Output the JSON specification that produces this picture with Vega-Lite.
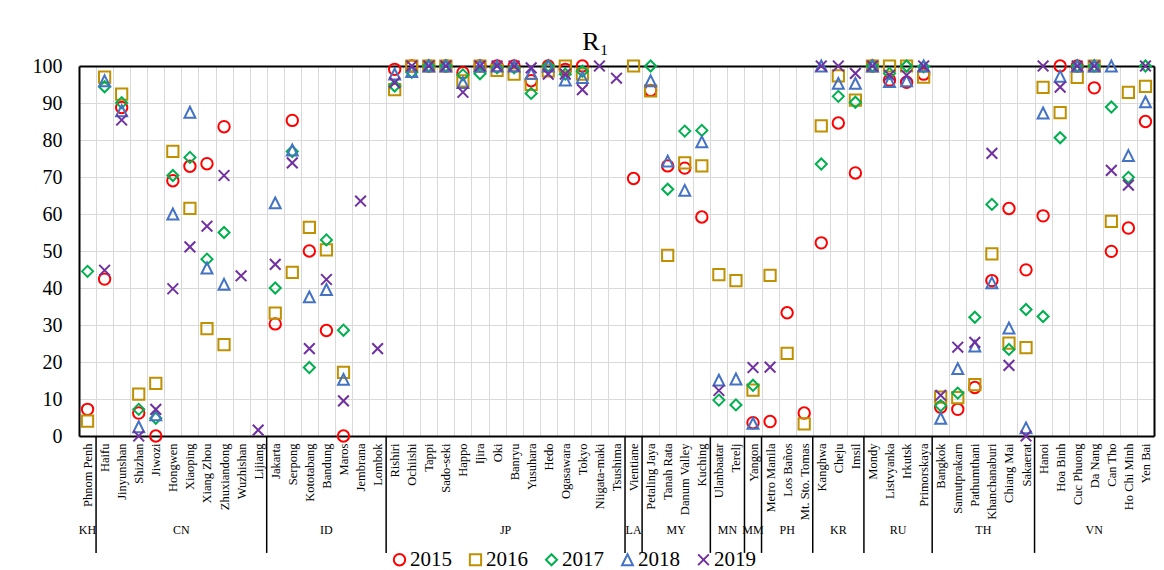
{
  "$schema": "https://vega.github.io/schema/vega-lite/v6.json",
  "width": 1075,
  "height": 370,
  "autosize": {"type": "none"},
  "padding": {"left": 79, "top": 66, "right": 10, "bottom": 134},
  "background": "white",
  "title": {"text": "R₁", "font": "Liberation Serif", "fontSize": 26, "fontWeight": "normal", "color": "black", "anchor": "middle", "dx": -21, "offset": -20, "baseline": "alphabetic"},
  "config": {"view": {"stroke": null}, "font": "Liberation Serif"},
  "resolve": {"axis": {"x": "independent", "y": "independent"}},
  "datasets": {
    "r1": [
      {"site": "Phnom Penh", "year": "2015", "r1": 7.2},
      {"site": "Haifu", "year": "2015", "r1": 42.4},
      {"site": "Jinyunshan", "year": "2015", "r1": 88.8},
      {"site": "Shizhan", "year": "2015", "r1": 6.2},
      {"site": "Jiwozi", "year": "2015", "r1": 0},
      {"site": "Hongwen", "year": "2015", "r1": 69.0},
      {"site": "Xiaoping", "year": "2015", "r1": 72.9},
      {"site": "Xiang Zhou", "year": "2015", "r1": 73.6},
      {"site": "Zhuxiandong", "year": "2015", "r1": 83.6},
      {"site": "Jakarta", "year": "2015", "r1": 30.3},
      {"site": "Serpong", "year": "2015", "r1": 85.3},
      {"site": "Kototabang", "year": "2015", "r1": 50.0},
      {"site": "Bandung", "year": "2015", "r1": 28.5},
      {"site": "Maros", "year": "2015", "r1": 0},
      {"site": "Rishiri", "year": "2015", "r1": 99.1},
      {"site": "Ochiishi", "year": "2015", "r1": 100},
      {"site": "Tappi", "year": "2015", "r1": 100},
      {"site": "Sado-seki", "year": "2015", "r1": 100},
      {"site": "Happo", "year": "2015", "r1": 98.2},
      {"site": "Ijira", "year": "2015", "r1": 100},
      {"site": "Oki", "year": "2015", "r1": 100},
      {"site": "Banryu", "year": "2015", "r1": 100},
      {"site": "Yusuhara", "year": "2015", "r1": 96.0},
      {"site": "Hedo", "year": "2015", "r1": 100},
      {"site": "Ogasawara", "year": "2015", "r1": 99.1},
      {"site": "Tokyo", "year": "2015", "r1": 100},
      {"site": "Vientiane", "year": "2015", "r1": 69.6},
      {"site": "Petaling Jaya", "year": "2015", "r1": 93.4},
      {"site": "Tanah Rata", "year": "2015", "r1": 73.0},
      {"site": "Danum Valley", "year": "2015", "r1": 72.4},
      {"site": "Kuching", "year": "2015", "r1": 59.2},
      {"site": "Yangon", "year": "2015", "r1": 3.6},
      {"site": "Metro Manila", "year": "2015", "r1": 3.9},
      {"site": "Los Baños", "year": "2015", "r1": 33.3},
      {"site": "Mt. Sto. Tomas", "year": "2015", "r1": 6.2},
      {"site": "Kanghwa", "year": "2015", "r1": 52.2},
      {"site": "Cheju", "year": "2015", "r1": 84.6},
      {"site": "Imsil", "year": "2015", "r1": 71.1},
      {"site": "Mondy", "year": "2015", "r1": 100},
      {"site": "Listvyanka", "year": "2015", "r1": 96.2},
      {"site": "Irkutsk", "year": "2015", "r1": 95.6},
      {"site": "Primorskaya", "year": "2015", "r1": 97.8},
      {"site": "Bangkok", "year": "2015", "r1": 7.8},
      {"site": "Samutprakarn", "year": "2015", "r1": 7.2},
      {"site": "Pathumthani", "year": "2015", "r1": 13.1},
      {"site": "Khanchanaburi", "year": "2015", "r1": 42.0},
      {"site": "Chiang Mai", "year": "2015", "r1": 61.5},
      {"site": "Sakaerat", "year": "2015", "r1": 44.9},
      {"site": "Hanoi", "year": "2015", "r1": 59.5},
      {"site": "Hoa Binh", "year": "2015", "r1": 100},
      {"site": "Cuc Phuong", "year": "2015", "r1": 100},
      {"site": "Da Nang", "year": "2015", "r1": 94.1},
      {"site": "Can Tho", "year": "2015", "r1": 49.9},
      {"site": "Ho Chi Minh", "year": "2015", "r1": 56.2},
      {"site": "Yen Bai", "year": "2015", "r1": 85.0},

      {"site": "Phnom Penh", "year": "2016", "r1": 4.0},
      {"site": "Haifu", "year": "2016", "r1": 97.0},
      {"site": "Jinyunshan", "year": "2016", "r1": 92.4},
      {"site": "Shizhan", "year": "2016", "r1": 11.3},
      {"site": "Jiwozi", "year": "2016", "r1": 14.2},
      {"site": "Hongwen", "year": "2016", "r1": 76.9},
      {"site": "Xiaoping", "year": "2016", "r1": 61.5},
      {"site": "Xiang Zhou", "year": "2016", "r1": 29.0},
      {"site": "Zhuxiandong", "year": "2016", "r1": 24.7},
      {"site": "Jakarta", "year": "2016", "r1": 33.2},
      {"site": "Serpong", "year": "2016", "r1": 44.2},
      {"site": "Kototabang", "year": "2016", "r1": 56.4},
      {"site": "Bandung", "year": "2016", "r1": 50.3},
      {"site": "Maros", "year": "2016", "r1": 17.2},
      {"site": "Rishiri", "year": "2016", "r1": 93.6},
      {"site": "Ochiishi", "year": "2016", "r1": 100},
      {"site": "Tappi", "year": "2016", "r1": 100},
      {"site": "Sado-seki", "year": "2016", "r1": 100},
      {"site": "Happo", "year": "2016", "r1": 96.0},
      {"site": "Ijira", "year": "2016", "r1": 100},
      {"site": "Oki", "year": "2016", "r1": 98.8},
      {"site": "Banryu", "year": "2016", "r1": 97.8},
      {"site": "Yusuhara", "year": "2016", "r1": 95.0},
      {"site": "Hedo", "year": "2016", "r1": 98.7},
      {"site": "Ogasawara", "year": "2016", "r1": 100},
      {"site": "Tokyo", "year": "2016", "r1": 97.8},
      {"site": "Vientiane", "year": "2016", "r1": 100},
      {"site": "Petaling Jaya", "year": "2016", "r1": 93.3},
      {"site": "Tanah Rata", "year": "2016", "r1": 48.8},
      {"site": "Danum Valley", "year": "2016", "r1": 73.8},
      {"site": "Kuching", "year": "2016", "r1": 73.0},
      {"site": "Ulanbaatar", "year": "2016", "r1": 43.6},
      {"site": "Terelj", "year": "2016", "r1": 42.0},
      {"site": "Yangon", "year": "2016", "r1": 12.4},
      {"site": "Metro Manila", "year": "2016", "r1": 43.4},
      {"site": "Los Baños", "year": "2016", "r1": 22.3},
      {"site": "Mt. Sto. Tomas", "year": "2016", "r1": 3.3},
      {"site": "Kanghwa", "year": "2016", "r1": 83.8},
      {"site": "Cheju", "year": "2016", "r1": 97.3},
      {"site": "Imsil", "year": "2016", "r1": 90.8},
      {"site": "Mondy", "year": "2016", "r1": 100},
      {"site": "Listvyanka", "year": "2016", "r1": 100},
      {"site": "Irkutsk", "year": "2016", "r1": 100},
      {"site": "Primorskaya", "year": "2016", "r1": 97.0},
      {"site": "Bangkok", "year": "2016", "r1": 10.5},
      {"site": "Samutprakarn", "year": "2016", "r1": 10.4},
      {"site": "Pathumthani", "year": "2016", "r1": 13.9},
      {"site": "Khanchanaburi", "year": "2016", "r1": 49.2},
      {"site": "Chiang Mai", "year": "2016", "r1": 25.1},
      {"site": "Sakaerat", "year": "2016", "r1": 23.9},
      {"site": "Hanoi", "year": "2016", "r1": 94.2},
      {"site": "Hoa Binh", "year": "2016", "r1": 87.4},
      {"site": "Cuc Phuong", "year": "2016", "r1": 96.9},
      {"site": "Da Nang", "year": "2016", "r1": 100},
      {"site": "Can Tho", "year": "2016", "r1": 58.0},
      {"site": "Ho Chi Minh", "year": "2016", "r1": 92.9},
      {"site": "Yen Bai", "year": "2016", "r1": 94.5},

      {"site": "Phnom Penh", "year": "2017", "r1": 44.5},
      {"site": "Haifu", "year": "2017", "r1": 94.4},
      {"site": "Jinyunshan", "year": "2017", "r1": 90.1},
      {"site": "Shizhan", "year": "2017", "r1": 7.2},
      {"site": "Jiwozi", "year": "2017", "r1": 4.8},
      {"site": "Hongwen", "year": "2017", "r1": 70.4},
      {"site": "Xiaoping", "year": "2017", "r1": 75.3},
      {"site": "Xiang Zhou", "year": "2017", "r1": 47.8},
      {"site": "Zhuxiandong", "year": "2017", "r1": 55.0},
      {"site": "Jakarta", "year": "2017", "r1": 40.0},
      {"site": "Serpong", "year": "2017", "r1": 76.9},
      {"site": "Kototabang", "year": "2017", "r1": 18.5},
      {"site": "Bandung", "year": "2017", "r1": 53.0},
      {"site": "Maros", "year": "2017", "r1": 28.6},
      {"site": "Rishiri", "year": "2017", "r1": 94.6},
      {"site": "Ochiishi", "year": "2017", "r1": 98.3},
      {"site": "Tappi", "year": "2017", "r1": 100},
      {"site": "Sado-seki", "year": "2017", "r1": 100},
      {"site": "Happo", "year": "2017", "r1": 97.6},
      {"site": "Ijira", "year": "2017", "r1": 97.9},
      {"site": "Oki", "year": "2017", "r1": 99.5},
      {"site": "Banryu", "year": "2017", "r1": 99.5},
      {"site": "Yusuhara", "year": "2017", "r1": 92.6},
      {"site": "Hedo", "year": "2017", "r1": 100},
      {"site": "Ogasawara", "year": "2017", "r1": 97.8},
      {"site": "Tokyo", "year": "2017", "r1": 98.6},
      {"site": "Petaling Jaya", "year": "2017", "r1": 100},
      {"site": "Tanah Rata", "year": "2017", "r1": 66.7},
      {"site": "Danum Valley", "year": "2017", "r1": 82.4},
      {"site": "Kuching", "year": "2017", "r1": 82.6},
      {"site": "Ulanbaatar", "year": "2017", "r1": 9.7},
      {"site": "Terelj", "year": "2017", "r1": 8.4},
      {"site": "Yangon", "year": "2017", "r1": 13.7},
      {"site": "Kanghwa", "year": "2017", "r1": 73.5},
      {"site": "Cheju", "year": "2017", "r1": 91.8},
      {"site": "Imsil", "year": "2017", "r1": 90.2},
      {"site": "Mondy", "year": "2017", "r1": 100},
      {"site": "Listvyanka", "year": "2017", "r1": 98.0},
      {"site": "Irkutsk", "year": "2017", "r1": 100},
      {"site": "Primorskaya", "year": "2017", "r1": 99.8},
      {"site": "Bangkok", "year": "2017", "r1": 8.2},
      {"site": "Samutprakarn", "year": "2017", "r1": 11.6},
      {"site": "Pathumthani", "year": "2017", "r1": 32.1},
      {"site": "Khanchanaburi", "year": "2017", "r1": 62.6},
      {"site": "Chiang Mai", "year": "2017", "r1": 23.4},
      {"site": "Sakaerat", "year": "2017", "r1": 34.2},
      {"site": "Hanoi", "year": "2017", "r1": 32.3},
      {"site": "Hoa Binh", "year": "2017", "r1": 80.6},
      {"site": "Cuc Phuong", "year": "2017", "r1": 100},
      {"site": "Da Nang", "year": "2017", "r1": 100},
      {"site": "Can Tho", "year": "2017", "r1": 88.9},
      {"site": "Ho Chi Minh", "year": "2017", "r1": 69.9},
      {"site": "Yen Bai", "year": "2017", "r1": 100},

      {"site": "Haifu", "year": "2018", "r1": 96.0},
      {"site": "Jinyunshan", "year": "2018", "r1": 87.9},
      {"site": "Shizhan", "year": "2018", "r1": 2.5},
      {"site": "Jiwozi", "year": "2018", "r1": 5.7},
      {"site": "Hongwen", "year": "2018", "r1": 60.0},
      {"site": "Xiaoping", "year": "2018", "r1": 87.5},
      {"site": "Xiang Zhou", "year": "2018", "r1": 45.4},
      {"site": "Zhuxiandong", "year": "2018", "r1": 41.0},
      {"site": "Jakarta", "year": "2018", "r1": 63.0},
      {"site": "Serpong", "year": "2018", "r1": 77.3},
      {"site": "Kototabang", "year": "2018", "r1": 37.6},
      {"site": "Bandung", "year": "2018", "r1": 39.6},
      {"site": "Maros", "year": "2018", "r1": 15.3},
      {"site": "Rishiri", "year": "2018", "r1": 97.8},
      {"site": "Ochiishi", "year": "2018", "r1": 98.5},
      {"site": "Tappi", "year": "2018", "r1": 100},
      {"site": "Sado-seki", "year": "2018", "r1": 100},
      {"site": "Happo", "year": "2018", "r1": 95.5},
      {"site": "Ijira", "year": "2018", "r1": 100},
      {"site": "Oki", "year": "2018", "r1": 100},
      {"site": "Banryu", "year": "2018", "r1": 100},
      {"site": "Yusuhara", "year": "2018", "r1": 98.0},
      {"site": "Hedo", "year": "2018", "r1": 100},
      {"site": "Ogasawara", "year": "2018", "r1": 96.2},
      {"site": "Tokyo", "year": "2018", "r1": 96.9},
      {"site": "Petaling Jaya", "year": "2018", "r1": 96.0},
      {"site": "Tanah Rata", "year": "2018", "r1": 74.3},
      {"site": "Danum Valley", "year": "2018", "r1": 66.4},
      {"site": "Kuching", "year": "2018", "r1": 79.5},
      {"site": "Ulanbaatar", "year": "2018", "r1": 15.1},
      {"site": "Terelj", "year": "2018", "r1": 15.4},
      {"site": "Yangon", "year": "2018", "r1": 3.4},
      {"site": "Kanghwa", "year": "2018", "r1": 100},
      {"site": "Cheju", "year": "2018", "r1": 95.3},
      {"site": "Imsil", "year": "2018", "r1": 95.3},
      {"site": "Mondy", "year": "2018", "r1": 100},
      {"site": "Listvyanka", "year": "2018", "r1": 95.8},
      {"site": "Irkutsk", "year": "2018", "r1": 96.0},
      {"site": "Primorskaya", "year": "2018", "r1": 100},
      {"site": "Bangkok", "year": "2018", "r1": 4.8},
      {"site": "Samutprakarn", "year": "2018", "r1": 18.2},
      {"site": "Pathumthani", "year": "2018", "r1": 24.3},
      {"site": "Khanchanaburi", "year": "2018", "r1": 41.4},
      {"site": "Chiang Mai", "year": "2018", "r1": 29.2},
      {"site": "Sakaerat", "year": "2018", "r1": 2.2},
      {"site": "Hanoi", "year": "2018", "r1": 87.3},
      {"site": "Hoa Binh", "year": "2018", "r1": 97.2},
      {"site": "Cuc Phuong", "year": "2018", "r1": 100},
      {"site": "Da Nang", "year": "2018", "r1": 100},
      {"site": "Can Tho", "year": "2018", "r1": 100},
      {"site": "Ho Chi Minh", "year": "2018", "r1": 75.8},
      {"site": "Yen Bai", "year": "2018", "r1": 90.3},

      {"site": "Haifu", "year": "2019", "r1": 44.8},
      {"site": "Jinyunshan", "year": "2019", "r1": 85.4},
      {"site": "Shizhan", "year": "2019", "r1": 0},
      {"site": "Jiwozi", "year": "2019", "r1": 7.2},
      {"site": "Hongwen", "year": "2019", "r1": 39.8},
      {"site": "Xiaoping", "year": "2019", "r1": 51.1},
      {"site": "Xiang Zhou", "year": "2019", "r1": 56.7},
      {"site": "Zhuxiandong", "year": "2019", "r1": 70.4},
      {"site": "Wuzhishan", "year": "2019", "r1": 43.3},
      {"site": "Lijiang", "year": "2019", "r1": 1.6},
      {"site": "Jakarta", "year": "2019", "r1": 46.4},
      {"site": "Serpong", "year": "2019", "r1": 73.8},
      {"site": "Kototabang", "year": "2019", "r1": 23.6},
      {"site": "Bandung", "year": "2019", "r1": 42.3},
      {"site": "Maros", "year": "2019", "r1": 9.5},
      {"site": "Jembrana", "year": "2019", "r1": 63.5},
      {"site": "Lombok", "year": "2019", "r1": 23.6},
      {"site": "Rishiri", "year": "2019", "r1": 95.5},
      {"site": "Ochiishi", "year": "2019", "r1": 100},
      {"site": "Tappi", "year": "2019", "r1": 100},
      {"site": "Sado-seki", "year": "2019", "r1": 100},
      {"site": "Happo", "year": "2019", "r1": 92.9},
      {"site": "Ijira", "year": "2019", "r1": 100},
      {"site": "Oki", "year": "2019", "r1": 100},
      {"site": "Banryu", "year": "2019", "r1": 100},
      {"site": "Yusuhara", "year": "2019", "r1": 99.5},
      {"site": "Hedo", "year": "2019", "r1": 97.8},
      {"site": "Ogasawara", "year": "2019", "r1": 97.8},
      {"site": "Tokyo", "year": "2019", "r1": 93.6},
      {"site": "Niigata-maki", "year": "2019", "r1": 100},
      {"site": "Tsushima", "year": "2019", "r1": 96.7},
      {"site": "Ulanbaatar", "year": "2019", "r1": 12.3},
      {"site": "Yangon", "year": "2019", "r1": 18.5},
      {"site": "Metro Manila", "year": "2019", "r1": 18.6},
      {"site": "Kanghwa", "year": "2019", "r1": 100},
      {"site": "Cheju", "year": "2019", "r1": 100},
      {"site": "Imsil", "year": "2019", "r1": 98.0},
      {"site": "Mondy", "year": "2019", "r1": 100},
      {"site": "Listvyanka", "year": "2019", "r1": 97.5},
      {"site": "Irkutsk", "year": "2019", "r1": 97.5},
      {"site": "Primorskaya", "year": "2019", "r1": 100},
      {"site": "Bangkok", "year": "2019", "r1": 11.0},
      {"site": "Samutprakarn", "year": "2019", "r1": 24.0},
      {"site": "Pathumthani", "year": "2019", "r1": 25.3},
      {"site": "Khanchanaburi", "year": "2019", "r1": 76.4},
      {"site": "Chiang Mai", "year": "2019", "r1": 19.1},
      {"site": "Sakaerat", "year": "2019", "r1": 0},
      {"site": "Hanoi", "year": "2019", "r1": 100},
      {"site": "Hoa Binh", "year": "2019", "r1": 94.3},
      {"site": "Cuc Phuong", "year": "2019", "r1": 100},
      {"site": "Da Nang", "year": "2019", "r1": 100},
      {"site": "Can Tho", "year": "2019", "r1": 71.8},
      {"site": "Ho Chi Minh", "year": "2019", "r1": 67.8},
      {"site": "Yen Bai", "year": "2019", "r1": 100}
    ],
    "groups": [
      {"country": "KH", "first": "Phnom Penh", "centre": "Phnom Penh", "n": 1},
      {"country": "CN", "first": "Haifu", "centre": "Hongwen", "n": 10},
      {"country": "ID", "first": "Jakarta", "centre": "Bandung", "n": 7},
      {"country": "JP", "first": "Rishiri", "centre": "Oki", "n": 14},
      {"country": "LA", "first": "Vientiane", "centre": "Vientiane", "n": 1},
      {"country": "MY", "first": "Petaling Jaya", "centre": "Tanah Rata", "n": 4},
      {"country": "MN", "first": "Ulanbaatar", "centre": "Ulanbaatar", "n": 2},
      {"country": "MM", "first": "Yangon", "centre": "Yangon", "n": 1},
      {"country": "PH", "first": "Metro Manila", "centre": "Los Baños", "n": 3},
      {"country": "KR", "first": "Kanghwa", "centre": "Cheju", "n": 3},
      {"country": "RU", "first": "Mondy", "centre": "Listvyanka", "n": 4},
      {"country": "TH", "first": "Bangkok", "centre": "Pathumthani", "n": 6},
      {"country": "VN", "first": "Hanoi", "centre": "Da Nang", "n": 7}
    ]
  },
  "layer": [
    {
      "data": {"name": "r1"},
      "mark": {"type": "point", "filled": false, "strokeWidth": 2, "opacity": 1},
      "encoding": {
        "x": {
          "field": "site", "type": "nominal", "sort": null,
          "scale": {"domain": ["Phnom Penh","Haifu","Jinyunshan","Shizhan","Jiwozi","Hongwen","Xiaoping","Xiang Zhou","Zhuxiandong","Wuzhishan","Lijiang","Jakarta","Serpong","Kototabang","Bandung","Maros","Jembrana","Lombok","Rishiri","Ochiishi","Tappi","Sado-seki","Happo","Ijira","Oki","Banryu","Yusuhara","Hedo","Ogasawara","Tokyo","Niigata-maki","Tsushima","Vientiane","Petaling Jaya","Tanah Rata","Danum Valley","Kuching","Ulanbaatar","Terelj","Yangon","Metro Manila","Los Baños","Mt. Sto. Tomas","Kanghwa","Cheju","Imsil","Mondy","Listvyanka","Irkutsk","Primorskaya","Bangkok","Samutprakarn","Pathumthani","Khanchanaburi","Chiang Mai","Sakaerat","Hanoi","Hoa Binh","Cuc Phuong","Da Nang","Can Tho","Ho Chi Minh","Yen Bai"], "paddingInner": 0, "paddingOuter": 0},
          "axis": {"orient": "bottom", "title": null, "labelAngle": 270, "labelFont": "Liberation Serif", "labelFontSize": 12.5, "labelColor": "black", "labelPadding": 7, "ticks": false, "tickBand": "extent", "grid": true, "gridColor": "#D9D9D9", "gridWidth": 1, "domain": true, "domainColor": "black", "domainWidth": 2, "labelOverlap": false, "labelLimit": 0}
        },
        "y": {
          "field": "r1", "type": "quantitative",
          "scale": {"domain": [0, 100], "nice": false},
          "axis": {"orient": "left", "title": null, "tickCount": 10, "labelFont": "Liberation Serif", "labelFontSize": 20, "labelColor": "black", "labelPadding": 17, "ticks": false, "grid": true, "gridColor": "#D9D9D9", "gridWidth": 1, "domain": true, "domainColor": "black", "domainWidth": 2}
        },
        "color": {
          "field": "year", "type": "nominal",
          "scale": {"domain": ["2015", "2016", "2017", "2018", "2019"], "range": ["#FF0000", "#BF9000", "#00B050", "#4472C4", "#7030A0"]},
          "legend": {"orient": "none", "legendX": 310, "legendY": 483, "direction": "horizontal", "title": null, "labelFont": "Liberation Serif", "labelFontSize": 21, "labelColor": "black", "symbolSize": 90, "symbolStrokeWidth": 2, "labelOffset": 0, "columnPadding": 13, "padding": 0}
        },
        "shape": {
          "field": "year", "type": "nominal",
          "scale": {"domain": ["2015", "2016", "2017", "2018", "2019"], "range": ["circle", "square", "diamond", "M0,-1L1,1L-1,1Z", "M-1,-1L1,1M-1,1L1,-1"]}
        },
        "size": {
          "field": "year", "type": "ordinal",
          "scale": {"domain": ["2015", "2016", "2017", "2018", "2019"], "range": [130, 115, 100, 100, 115]},
          "legend": null
        }
      }
    },
    {
      "data": {"name": "groups"},
      "transform": [{"filter": "datum.country !== 'KH'"}],
      "mark": {"type": "rule", "color": "black", "strokeWidth": 1.5},
      "encoding": {
        "x": {
          "field": "first", "type": "nominal", "bandPosition": 0,
          "scale": {"domain": ["Phnom Penh","Haifu","Jinyunshan","Shizhan","Jiwozi","Hongwen","Xiaoping","Xiang Zhou","Zhuxiandong","Wuzhishan","Lijiang","Jakarta","Serpong","Kototabang","Bandung","Maros","Jembrana","Lombok","Rishiri","Ochiishi","Tappi","Sado-seki","Happo","Ijira","Oki","Banryu","Yusuhara","Hedo","Ogasawara","Tokyo","Niigata-maki","Tsushima","Vientiane","Petaling Jaya","Tanah Rata","Danum Valley","Kuching","Ulanbaatar","Terelj","Yangon","Metro Manila","Los Baños","Mt. Sto. Tomas","Kanghwa","Cheju","Imsil","Mondy","Listvyanka","Irkutsk","Primorskaya","Bangkok","Samutprakarn","Pathumthani","Khanchanaburi","Chiang Mai","Sakaerat","Hanoi","Hoa Binh","Cuc Phuong","Da Nang","Can Tho","Ho Chi Minh","Yen Bai"], "paddingInner": 0, "paddingOuter": 0},
          "axis": {"orient": "top", "title": null, "labels": false, "ticks": false, "grid": false, "domain": true, "domainColor": "black", "domainWidth": 2}
        },
        "y": {
          "datum": 0, "type": "quantitative",
          "scale": {"domain": [0, 100], "nice": false},
          "axis": {"orient": "right", "title": null, "labels": false, "ticks": false, "grid": false, "domain": true, "domainColor": "black", "domainWidth": 2}
        },
        "y2": {"datum": -31.6}
      }
    },
    {
      "data": {"name": "groups"},
      "transform": [{"filter": "datum.n % 2 === 1"}],
      "mark": {"type": "text", "font": "Liberation Serif", "fontSize": 12, "color": "black", "baseline": "middle", "align": "center"},
      "encoding": {
        "x": {
          "field": "centre", "type": "nominal", "bandPosition": 0.5,
          "scale": {"domain": ["Phnom Penh","Haifu","Jinyunshan","Shizhan","Jiwozi","Hongwen","Xiaoping","Xiang Zhou","Zhuxiandong","Wuzhishan","Lijiang","Jakarta","Serpong","Kototabang","Bandung","Maros","Jembrana","Lombok","Rishiri","Ochiishi","Tappi","Sado-seki","Happo","Ijira","Oki","Banryu","Yusuhara","Hedo","Ogasawara","Tokyo","Niigata-maki","Tsushima","Vientiane","Petaling Jaya","Tanah Rata","Danum Valley","Kuching","Ulanbaatar","Terelj","Yangon","Metro Manila","Los Baños","Mt. Sto. Tomas","Kanghwa","Cheju","Imsil","Mondy","Listvyanka","Irkutsk","Primorskaya","Bangkok","Samutprakarn","Pathumthani","Khanchanaburi","Chiang Mai","Sakaerat","Hanoi","Hoa Binh","Cuc Phuong","Da Nang","Can Tho","Ho Chi Minh","Yen Bai"], "paddingInner": 0, "paddingOuter": 0},
          "axis": null
        },
        "y": {"datum": -25.4, "type": "quantitative", "scale": {"domain": [0, 100], "nice": false}, "axis": null},
        "text": {"field": "country"}
      }
    },
    {
      "data": {"name": "groups"},
      "transform": [{"filter": "datum.n % 2 === 0"}],
      "mark": {"type": "text", "font": "Liberation Serif", "fontSize": 12, "color": "black", "baseline": "middle", "align": "center"},
      "encoding": {
        "x": {
          "field": "centre", "type": "nominal", "bandPosition": 1,
          "scale": {"domain": ["Phnom Penh","Haifu","Jinyunshan","Shizhan","Jiwozi","Hongwen","Xiaoping","Xiang Zhou","Zhuxiandong","Wuzhishan","Lijiang","Jakarta","Serpong","Kototabang","Bandung","Maros","Jembrana","Lombok","Rishiri","Ochiishi","Tappi","Sado-seki","Happo","Ijira","Oki","Banryu","Yusuhara","Hedo","Ogasawara","Tokyo","Niigata-maki","Tsushima","Vientiane","Petaling Jaya","Tanah Rata","Danum Valley","Kuching","Ulanbaatar","Terelj","Yangon","Metro Manila","Los Baños","Mt. Sto. Tomas","Kanghwa","Cheju","Imsil","Mondy","Listvyanka","Irkutsk","Primorskaya","Bangkok","Samutprakarn","Pathumthani","Khanchanaburi","Chiang Mai","Sakaerat","Hanoi","Hoa Binh","Cuc Phuong","Da Nang","Can Tho","Ho Chi Minh","Yen Bai"], "paddingInner": 0, "paddingOuter": 0},
          "axis": null
        },
        "y": {"datum": -25.4, "type": "quantitative", "scale": {"domain": [0, 100], "nice": false}, "axis": null},
        "text": {"field": "country"}
      }
    }
  ]
}
